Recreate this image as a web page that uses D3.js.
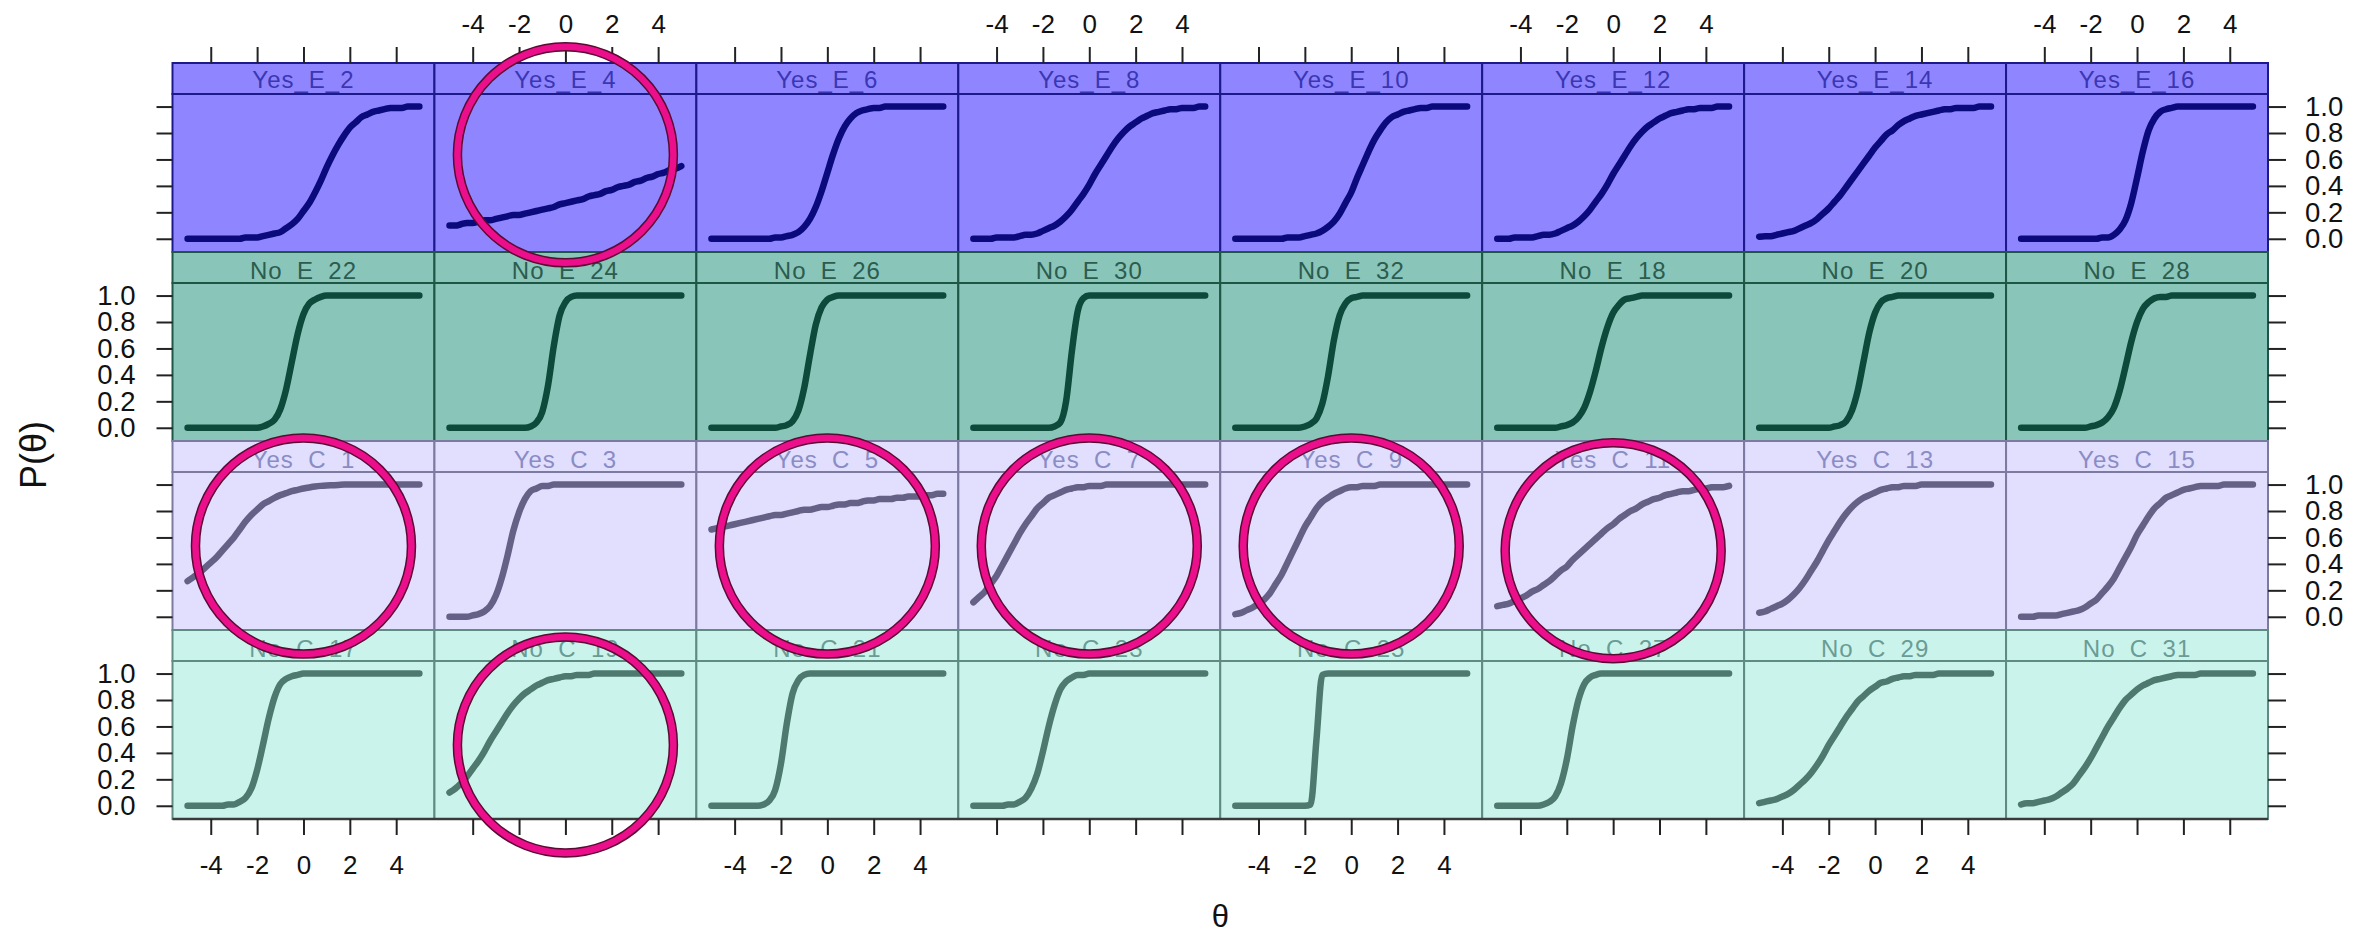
<!DOCTYPE html>
<html><head><meta charset="utf-8">
<script src="https://cdn.jsdelivr.net/npm/d3@7"></script>
<style>
html,body{margin:0;padding:0;background:#fff;}
svg{display:block;font-family:"Liberation Sans",Arial,Helvetica,sans-serif;}
</style>
</head><body>
<svg id="chart" width="2369" height="937"></svg>
<script>
// ---------------- DATA ----------------
const thetaGrid = [-5,-4.75,-4.5,-4.25,-4,-3.75,-3.5,-3.25,-3,-2.75,-2.5,-2.25,-2,-1.75,-1.5,-1.25,-1,-0.75,-0.5,-0.25,0,0.25,0.5,0.75,1,1.25,1.5,1.75,2,2.25,2.5,2.75,3,3.25,3.5,3.75,4,4.25,4.5,4.75,5];
const xTicks = [-4,-2,0,2,4];
const yTicks = [0,0.2,0.4,0.6,0.8,1.0];
const yTickLabels = ["0.0","0.2","0.4","0.6","0.8","1.0"];
const xLabel = "θ";
const yLabel = "P(θ)";

const itemsYesE = ["Yes_E_2","Yes_E_4","Yes_E_6","Yes_E_8","Yes_E_10","Yes_E_12","Yes_E_14","Yes_E_16"];
const itemsNoE  = ["No_E_22","No_E_24","No_E_26","No_E_30","No_E_32","No_E_18","No_E_20","No_E_28"];
const itemsYesC = ["Yes_C_1","Yes_C_3","Yes_C_5","Yes_C_7","Yes_C_9","Yes_C_11","Yes_C_13","Yes_C_15"];
const itemsNoC  = ["No_C_17","No_C_19","No_C_21","No_C_23","No_C_25","No_C_27","No_C_29","No_C_31"];

const probYesE = [
 [0,0,0,0,0,0,0,0,0,0,.01,.01,.01,.02,.03,.04,.05,.08,.11,.15,.21,.27,.35,.44,.54,.63,.71,.78,.84,.88,.92,.94,.96,.97,.98,.99,.99,.99,1,1,1],
 [.10,.10,.11,.12,.12,.13,.14,.14,.15,.16,.17,.18,.18,.19,.20,.21,.22,.23,.24,.26,.27,.28,.29,.30,.32,.33,.34,.36,.37,.39,.40,.41,.43,.44,.46,.47,.49,.50,.52,.53,.55],
 [0,0,0,0,0,0,0,0,0,0,0,.01,.01,.02,.03,.05,.09,.15,.24,.36,.50,.64,.76,.85,.91,.95,.97,.98,.99,.99,1,1,1,1,1,1,1,1,1,1,1],
 [0,0,0,0,.01,.01,.01,.01,.02,.03,.03,.04,.06,.08,.10,.13,.17,.22,.28,.34,.41,.49,.56,.63,.70,.76,.81,.85,.88,.91,.93,.95,.96,.97,.98,.98,.99,.99,.99,1,1],
 [0,0,0,0,0,0,0,0,0,.01,.01,.01,.02,.03,.04,.06,.09,.13,.19,.27,.35,.46,.56,.66,.75,.82,.88,.92,.94,.96,.97,.98,.99,.99,1,1,1,1,1,1,1],
 [0,0,0,.01,.01,.01,.01,.02,.03,.03,.04,.06,.08,.10,.13,.17,.22,.28,.34,.41,.49,.56,.63,.70,.76,.81,.85,.88,.91,.93,.95,.96,.97,.98,.98,.99,.99,.99,1,1,1],
 [.015,.02,.02,.03,.04,.05,.06,.08,.10,.12,.15,.19,.23,.28,.33,.39,.45,.51,.57,.63,.69,.74,.79,.82,.86,.89,.91,.93,.94,.95,.96,.97,.98,.98,.99,.99,.99,.99,1,1,1],
 [0,0,0,0,0,0,0,0,0,0,0,0,0,0,.01,.01,.03,.07,.14,.27,.46,.66,.82,.91,.96,.98,.99,1,1,1,1,1,1,1,1,1,1,1,1,1,1]
];
const probNoE = [
 [0,0,0,0,0,0,0,0,0,0,0,0,0,.01,.03,.06,.14,.29,.50,.71,.86,.94,.97,.99,1,1,1,1,1,1,1,1,1,1,1,1,1,1,1,1,1],
 [0,0,0,0,0,0,0,0,0,0,0,0,0,0,.01,.04,.12,.32,.62,.85,.95,.99,1,1,1,1,1,1,1,1,1,1,1,1,1,1,1,1,1,1,1],
 [0,0,0,0,0,0,0,0,0,0,0,0,.01,.02,.05,.13,.30,.55,.78,.91,.97,.99,1,1,1,1,1,1,1,1,1,1,1,1,1,1,1,1,1,1,1],
 [0,0,0,0,0,0,0,0,0,0,0,0,0,0,.01,.04,.20,.58,.88,.98,1,1,1,1,1,1,1,1,1,1,1,1,1,1,1,1,1,1,1,1,1],
 [0,0,0,0,0,0,0,0,0,0,0,0,.01,.03,.07,.18,.39,.66,.85,.94,.98,.99,1,1,1,1,1,1,1,1,1,1,1,1,1,1,1,1,1,1,1],
 [0,0,0,0,0,0,0,0,0,0,0,.01,.02,.04,.08,.15,.27,.43,.61,.76,.87,.93,.97,.98,.99,1,1,1,1,1,1,1,1,1,1,1,1,1,1,1,1],
 [0,0,0,0,0,0,0,0,0,0,0,0,0,.01,.02,.05,.13,.28,.50,.72,.87,.95,.98,.99,1,1,1,1,1,1,1,1,1,1,1,1,1,1,1,1,1],
 [0,0,0,0,0,0,0,0,0,0,0,0,.01,.02,.04,.08,.15,.28,.46,.65,.80,.90,.95,.98,.99,.99,1,1,1,1,1,1,1,1,1,1,1,1,1,1,1]
];
const probYesC = [
 [.27,.30,.33,.37,.41,.45,.50,.55,.60,.66,.72,.77,.81,.85,.875,.90,.92,.935,.95,.96,.97,.978,.985,.99,.993,.995,.997,1,1,1,1,1,1,1,1,1,1,1,1,1,1],
 [0,0,0,0,.01,.02,.04,.08,.16,.29,.46,.65,.79,.89,.95,.97,.99,.99,1,1,1,1,1,1,1,1,1,1,1,1,1,1,1,1,1,1,1,1,1,1,1],
 [.66,.67,.68,.69,.70,.71,.72,.73,.74,.75,.76,.77,.77,.78,.79,.80,.81,.81,.82,.83,.83,.84,.85,.85,.86,.86,.87,.88,.88,.89,.89,.89,.90,.90,.91,.91,.91,.92,.92,.93,.93],
 [.11,.15,.19,.25,.31,.39,.47,.55,.63,.70,.76,.82,.86,.90,.92,.94,.96,.97,.98,.98,.99,.99,.99,1,1,1,1,1,1,1,1,1,1,1,1,1,1,1,1,1,1],
 [.02,.03,.05,.07,.10,.13,.18,.25,.32,.41,.50,.59,.68,.75,.82,.87,.90,.93,.95,.97,.98,.98,.99,.99,.99,1,1,1,1,1,1,1,1,1,1,1,1,1,1,1,1],
 [.08,.09,.10,.12,.14,.16,.19,.21,.24,.27,.31,.35,.38,.43,.47,.51,.55,.59,.63,.67,.70,.74,.77,.80,.82,.85,.87,.89,.90,.92,.93,.94,.95,.95,.96,.97,.97,.98,.98,.98,.99],
 [.03,.04,.06,.08,.10,.13,.17,.22,.28,.35,.42,.50,.58,.65,.72,.78,.83,.87,.90,.92,.94,.96,.97,.98,.98,.99,.99,.99,1,1,1,1,1,1,1,1,1,1,1,1,1],
 [0,0,0,.01,.01,.01,.01,.02,.03,.04,.05,.07,.10,.13,.18,.23,.29,.37,.45,.53,.62,.69,.76,.82,.86,.90,.92,.94,.96,.97,.98,.99,.99,.99,.99,1,1,1,1,1,1]
];
const probNoC = [
 [0,0,0,0,0,0,0,.01,.01,.03,.06,.13,.27,.46,.66,.82,.92,.96,.98,.99,1,1,1,1,1,1,1,1,1,1,1,1,1,1,1,1,1,1,1,1,1],
 [.10,.13,.17,.22,.28,.34,.41,.49,.56,.63,.70,.76,.81,.85,.88,.91,.93,.95,.96,.97,.98,.98,.99,.99,.99,1,1,1,1,1,1,1,1,1,1,1,1,1,1,1,1],
 [0,0,0,0,0,0,0,0,0,.01,.04,.12,.32,.62,.85,.95,.99,1,1,1,1,1,1,1,1,1,1,1,1,1,1,1,1,1,1,1,1,1,1,1,1],
 [0,0,0,0,0,0,.01,.01,.03,.06,.13,.24,.41,.60,.76,.88,.94,.97,.99,.99,1,1,1,1,1,1,1,1,1,1,1,1,1,1,1,1,1,1,1,1,1],
 [0,0,0,0,0,0,0,0,0,0,0,0,0,.01,.50,.99,1,1,1,1,1,1,1,1,1,1,1,1,1,1,1,1,1,1,1,1,1,1,1,1,1],
 [0,0,0,0,0,0,0,0,.01,.03,.07,.17,.35,.60,.80,.92,.97,.99,1,1,1,1,1,1,1,1,1,1,1,1,1,1,1,1,1,1,1,1,1,1,1],
 [.02,.03,.04,.05,.07,.09,.12,.16,.20,.25,.31,.38,.46,.53,.60,.67,.73,.79,.83,.87,.90,.93,.94,.96,.97,.98,.98,.99,.99,.99,.99,1,1,1,1,1,1,1,1,1,1],
 [.01,.02,.02,.03,.04,.05,.07,.10,.13,.17,.23,.29,.36,.44,.52,.60,.67,.74,.80,.84,.88,.91,.93,.95,.96,.97,.98,.99,.99,.99,.99,1,1,1,1,1,1,1,1,1,1]
];

// annotation circles (panel + data-space centre)
const noteItems = ["Yes_E_4","Yes_C_1","Yes_C_5","Yes_C_7","Yes_C_9","Yes_C_11","No_C_19"];
const noteTheta = [0,0,0,0,0,0,0];
const noteP     = [0.635,0.535,0.535,0.535,0.535,0.50,0.46];

// ---------------- STYLE / LAYOUT ----------------
const rows = [
  {items:itemsYesE, probs:probYesE, bg:"#8f86ff", line:"#0b0a7c", border:"#1c1a8a", text:"#3b36b4", textY:25},
  {items:itemsNoE,  probs:probNoE,  bg:"#8ac5b9", line:"#0e4a3c", border:"#1f5746", text:"#2c5c4e", textY:26.5},
  {items:itemsYesC, probs:probYesC, bg:"#e1defe", line:"#656186", border:"#7d7aa2", text:"#8a8cc4", textY:26.5},
  {items:itemsNoC,  probs:probNoC,  bg:"#caf4eb", line:"#4d796f", border:"#5f8c82", text:"#6a9c96", textY:26.5}
];
rows.forEach(r => r.probs.forEach((p,i) => { if (p.length !== thetaGrid.length) throw new Error(r.items[i]+" has "+p.length+" values"); }));

const W = 2369, H = 937;
const L = 172.5, R = 2268, T = 63, B = 819;
const nC = 8, nR = 4;
const stripH = 31;
const colBand = d3.scaleBand().domain(d3.range(nC)).range([L, R]);
const rowBand = d3.scaleBand().domain(d3.range(nR)).range([T, B]);
const colW = colBand.bandwidth(), rowH = rowBand.bandwidth();

const xScale = c => d3.scaleLinear().domain([-5.65, 5.65]).range([colBand(c), colBand(c) + colW]);
const yScale = r => d3.scaleLinear().domain([-0.1, 1.095]).range([rowBand(r) + rowH, rowBand(r) + stripH]);

const svg = d3.select("#chart");
svg.append("rect").attr("width", W).attr("height", H).attr("fill", "#fff");

const defs = svg.append("defs");
const gPanels = svg.append("g");
const gAxes = svg.append("g");
const gNotes = svg.append("g");

const panelInfo = {};

rows.forEach((row, r) => {
  const y = yScale(r);
  const top = rowBand(r);
  row.items.forEach((name, c) => {
    const x = xScale(c);
    const x0 = colBand(c);
    panelInfo[name] = {x, y};
    const g = gPanels.append("g");
    g.append("rect").attr("x", x0).attr("y", top).attr("width", colW).attr("height", rowH).attr("fill", row.bg);
    g.append("text").attr("x", x0 + colW / 2).attr("y", top + row.textY)
      .attr("text-anchor", "middle").attr("font-size", 24).attr("letter-spacing", 1)
      .attr("fill", row.text).text(name);
    const cid = "clip-" + r + "-" + c;
    defs.append("clipPath").attr("id", cid).append("rect")
      .attr("x", x0).attr("y", top + stripH).attr("width", colW).attr("height", rowH - stripH);
    const line = d3.line().x((d, i) => x(thetaGrid[i])).y(d => y(d)).curve(d3.curveMonotoneX);
    g.append("path").attr("clip-path", "url(#" + cid + ")")
      .attr("d", line(row.probs[c]))
      .attr("fill", "none").attr("stroke", row.line).attr("stroke-width", 6.5)
      .attr("stroke-linecap", "round").attr("stroke-linejoin", "round");
    g.append("rect").attr("x", x0).attr("y", top).attr("width", colW).attr("height", stripH)
      .attr("fill", "none").attr("stroke", row.border).attr("stroke-width", 2);
    g.append("rect").attr("x", x0).attr("y", top + stripH).attr("width", colW).attr("height", rowH - stripH)
      .attr("fill", "none").attr("stroke", row.border).attr("stroke-width", 2);
  });
});

gAxes.append("line").attr("x1", L).attr("x2", R).attr("y1", B).attr("y2", B)
  .attr("stroke", "#3a3a3a").attr("stroke-width", 2.5);

function styleAxis(g, fs) {
  g.select(".domain").remove();
  g.selectAll(".tick line").attr("stroke", "#222").attr("stroke-width", 2);
  g.selectAll(".tick text").attr("font-size", fs).attr("fill", "#111")
    .attr("font-family", '"Liberation Sans",Arial,sans-serif');
}

d3.range(nC).forEach(c => {
  const x = xScale(c);
  const showTop = c % 2 === 1, showBot = c % 2 === 0;
  gAxes.append("g").attr("transform", `translate(0,${T})`)
    .call(d3.axisTop(x).tickValues(xTicks).tickSize(16).tickPadding(14)
      .tickFormat(d => showTop ? String(d) : ""))
    .call(g => styleAxis(g, 26));
  gAxes.append("g").attr("transform", `translate(0,${B})`)
    .call(d3.axisBottom(x).tickValues(xTicks).tickSize(16).tickPadding(21)
      .tickFormat(d => showBot ? String(d) : ""))
    .call(g => styleAxis(g, 26));
});

d3.range(nR).forEach(r => {
  const y = yScale(r);
  const showLeft = r % 2 === 1, showRight = r % 2 === 0;
  gAxes.append("g").attr("transform", `translate(${L},0)`)
    .call(d3.axisLeft(y).tickValues(yTicks).tickSize(16).tickPadding(21)
      .tickFormat((d, i) => showLeft ? yTickLabels[i] : ""))
    .call(g => styleAxis(g, 27.5));
  gAxes.append("g").attr("transform", `translate(${R},0)`)
    .call(d3.axisRight(y).tickValues(yTicks).tickSize(18).tickPadding(19)
      .tickFormat((d, i) => showRight ? yTickLabels[i] : ""))
    .call(g => styleAxis(g, 27.5));
});

gAxes.append("text").attr("transform", `translate(46,455) rotate(-90)`)
  .attr("text-anchor", "middle").attr("font-size", 36).attr("fill", "#111").text(yLabel);
gAxes.append("text").attr("x", (L + R) / 2).attr("y", 927)
  .attr("text-anchor", "middle").attr("font-size", 31).attr("fill", "#111").text(xLabel);

noteItems.forEach((name, i) => {
  const p = panelInfo[name];
  const cx = p.x(noteTheta[i]), cy = p.y(noteP[i]);
  gNotes.append("circle").attr("cx", cx).attr("cy", cy).attr("r", 108)
    .attr("fill", "none").attr("stroke", "#5a0b34").attr("stroke-width", 9.5);
  gNotes.append("circle").attr("cx", cx).attr("cy", cy).attr("r", 108)
    .attr("fill", "none").attr("stroke", "#ec0f8c").attr("stroke-width", 6.5);
});
</script>
</body></html>
